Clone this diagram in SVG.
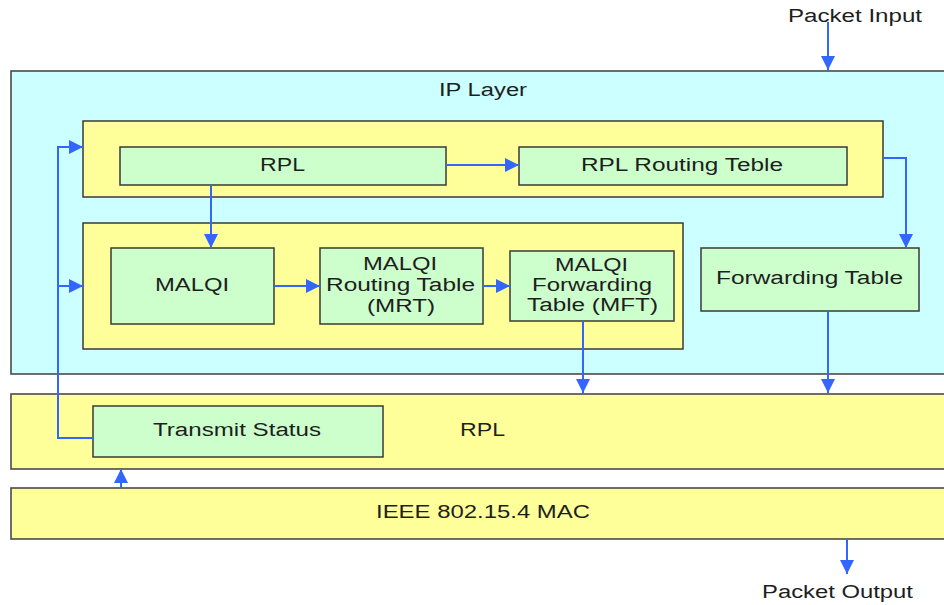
<svg xmlns="http://www.w3.org/2000/svg" width="944" height="605" viewBox="0 0 944 605">
<style>
.layer{stroke:#4a4a4a;stroke-width:1.6}
.cyan{fill:#CCFFFF}
.yel{fill:#FFFF99}
.grn{fill:#CCFFCC}
.box{stroke:#3a3a3a;stroke-width:1.5}
text{font-family:"Liberation Sans",Arial,sans-serif;font-size:18px;fill:#1e1e1e;text-anchor:start}
.conn{fill:none;stroke:#3366FF;stroke-width:2}
</style>
<defs>
<marker id="ah" markerUnits="userSpaceOnUse" markerWidth="15" markerHeight="15" refX="14" refY="7" orient="auto">
<path d="M0,0 L14,7 L0,14 z" fill="#3366FF"/>
</marker>
</defs>
<rect width="944" height="605" fill="#ffffff"/>

<g id="ip-layer">
<rect class="layer cyan" x="11" y="71" width="945" height="303"/>
<text x="439" y="96" textLength="88" lengthAdjust="spacingAndGlyphs">IP Layer</text>
</g>
<g id="rpl-group">
<rect class="box yel" x="83" y="121" width="800" height="76"/>
</g>
<g id="rpl">
<rect class="box grn" x="120" y="147" width="326" height="38"/>
<text x="260" y="171" textLength="45" lengthAdjust="spacingAndGlyphs">RPL</text>
</g>
<g id="rpl-routing-table">
<rect class="box grn" x="519" y="147" width="328" height="38"/>
<text x="581" y="171" textLength="202" lengthAdjust="spacingAndGlyphs">RPL Routing Teble</text>
</g>
<g id="malqi-group">
<rect class="box yel" x="83" y="223" width="600" height="126"/>
</g>
<g id="malqi">
<rect class="box grn" x="111" y="248" width="163" height="76"/>
<text x="155" y="291" textLength="74" lengthAdjust="spacingAndGlyphs">MALQI</text>
</g>
<g id="mrt">
<rect class="box grn" x="320" y="248" width="163" height="76"/>
<text x="363" y="270" textLength="74" lengthAdjust="spacingAndGlyphs">MALQI</text>
<text x="326" y="291" textLength="149" lengthAdjust="spacingAndGlyphs">Routing Table</text>
<text x="367" y="312" textLength="68" lengthAdjust="spacingAndGlyphs">(MRT)</text>
</g>
<g id="mft">
<rect class="box grn" x="510" y="251" width="164" height="70"/>
<text x="555" y="271" textLength="73" lengthAdjust="spacingAndGlyphs">MALQI</text>
<text x="532" y="291" textLength="120" lengthAdjust="spacingAndGlyphs">Forwarding</text>
<text x="527" y="311" textLength="131" lengthAdjust="spacingAndGlyphs">Table (MFT)</text>
</g>
<g id="forwarding-table">
<rect class="box grn" x="701" y="248" width="218" height="63"/>
<text x="716" y="284" textLength="187" lengthAdjust="spacingAndGlyphs">Forwarding Table</text>
</g>
<g id="rpl-layer">
<rect class="layer yel" x="11" y="394" width="945" height="75"/>
<text x="460" y="436" textLength="45" lengthAdjust="spacingAndGlyphs">RPL</text>
</g>
<g id="transmit-status">
<rect class="box grn" x="93" y="406" width="290" height="51"/>
<text x="153" y="436" textLength="168" lengthAdjust="spacingAndGlyphs">Transmit Status</text>
</g>
<g id="mac-layer">
<rect class="layer yel" x="11" y="488" width="945" height="51"/>
<text x="376" y="518" textLength="214" lengthAdjust="spacingAndGlyphs">IEEE 802.15.4 MAC</text>
</g>
<g id="labels">
<text x="788" y="22" textLength="134" lengthAdjust="spacingAndGlyphs">Packet Input</text>
<text x="762" y="598" textLength="151" lengthAdjust="spacingAndGlyphs">Packet Output</text>
</g>

<g id="connectors">
<path class="conn" d="M828,22 V70" marker-end="url(#ah)"/>
<path class="conn" d="M446,165 H519" marker-end="url(#ah)"/>
<path class="conn" d="M211,185 V248" marker-end="url(#ah)"/>
<path class="conn" d="M274,286 H320" marker-end="url(#ah)"/>
<path class="conn" d="M483,286 H510" marker-end="url(#ah)"/>
<path class="conn" d="M883,158 H906 V248" marker-end="url(#ah)"/>
<path class="conn" d="M583,321 V393" marker-end="url(#ah)"/>
<path class="conn" d="M828,311 V393" marker-end="url(#ah)"/>
<path class="conn" d="M93,438 H58 V147 H83" marker-end="url(#ah)"/>
<path class="conn" d="M58,286 H83" marker-end="url(#ah)"/>
<path class="conn" d="M121,488 V469" marker-end="url(#ah)"/>
<path class="conn" d="M847,539 V574" marker-end="url(#ah)"/>
</g>
</svg>
